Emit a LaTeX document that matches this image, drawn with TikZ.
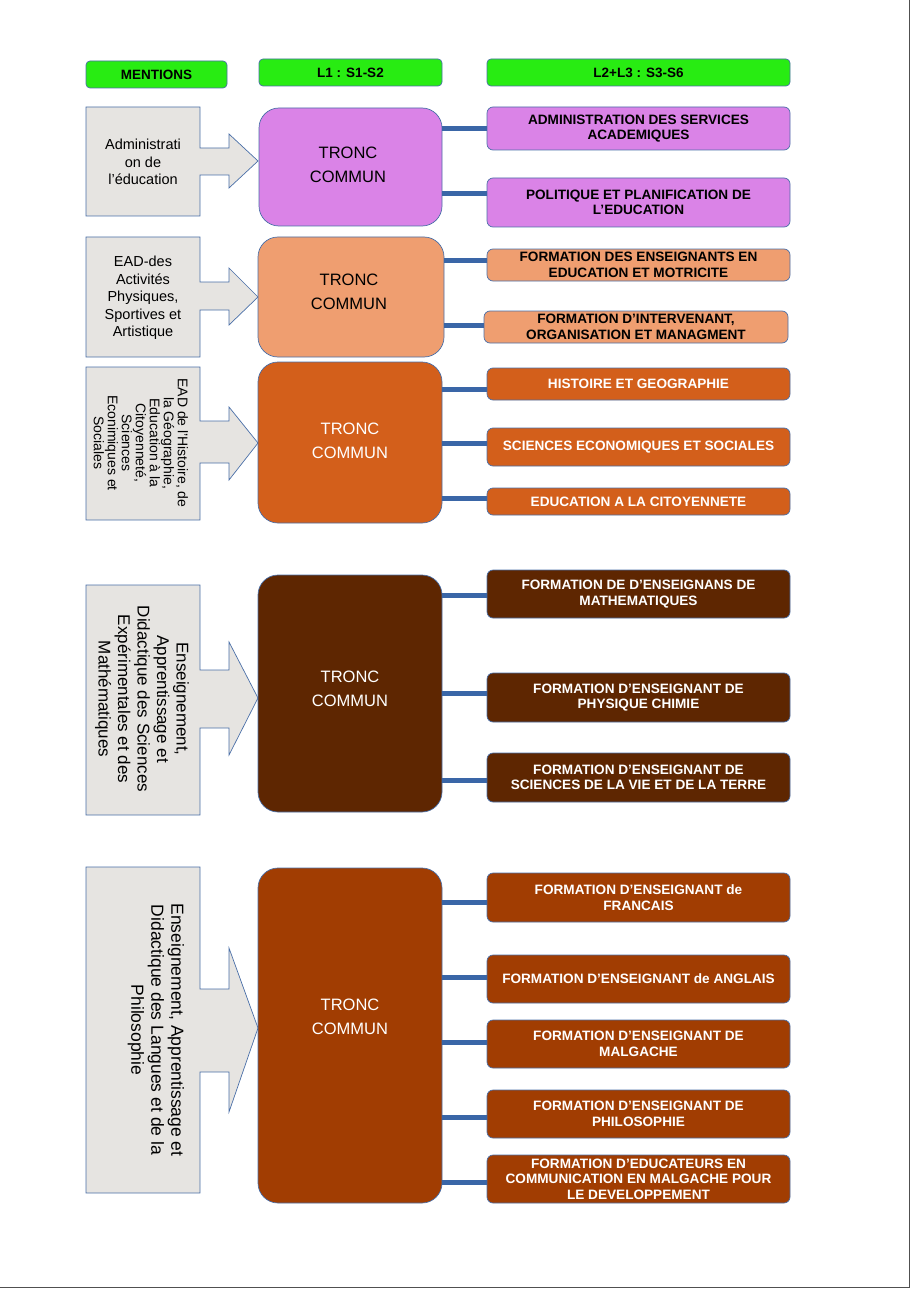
\documentclass[tikz,border=0pt]{standalone}
\usepackage{fontspec}
\setmainfont{Liberation Sans}
\definecolor{hgreen}{RGB}{40,236,18}
\definecolor{bordc}{RGB}{74,111,168}
\definecolor{connc}{RGB}{58,102,167}
\definecolor{mgray}{RGB}{230,228,225}
\definecolor{cviolet}{RGB}{218,131,231}
\definecolor{csalmon}{RGB}{239,158,112}
\definecolor{corange}{RGB}{211,95,27}
\definecolor{cbrown}{RGB}{94,38,1}
\definecolor{crust}{RGB}{161,61,2}
\definecolor{framec}{RGB}{80,80,80}
\newcommand{\mentshape}[7]{\draw[ment] (86,#1) -- (200,#1) -- (200,#3) -- (229,#3) -- (229,#5) -- (258,#7) -- (229,#6) -- (229,#4) -- (200,#4) -- (200,#2) -- (86,#2) -- cycle;}
\begin{document}
\begin{tikzpicture}[x=1pt,y=-1pt,
  bd/.style={draw=bordc, line width=0.7pt},
  hdr/.style={bd, fill=hgreen, rounded corners=4pt, minimum height=27pt, inner sep=0pt, font=\fontsize{13.5}{15}\selectfont\bfseries},
  tronc/.style={bd, rounded corners=20pt, inner sep=0pt},
  rbox/.style={bd, rounded corners=6pt, align=center, minimum width=303pt, inner sep=0pt, font=\fontsize{13.6}{15.5}\selectfont\bfseries},
  conn/.style={draw=connc, line width=5pt},
  ment/.style={bd, fill=mgray},
  ttxt/.style={align=center, font=\fontsize{16.5}{24}\selectfont},
  mtxt/.style={align=center, font=\fontsize{14.5}{17.5}\selectfont}
]
\useasboundingbox (0,0) rectangle (911,1289);
\draw[framec, line width=1.5pt] (909.5,0) -- (909.5,1287.5) -- (0,1287.5);

% headers
\node[hdr, minimum width=141pt] (h1) at (156.5,74.5) {MENTIONS};
\node[hdr, minimum width=183pt] (h2) at (350.5,72.5) {L1 : S1-S2};
\node[hdr, minimum width=303pt] (h3) at (638.5,72.5) {L2+L3 : S3-S6};

% ---------- section 1
\mentshape{107}{216}{148}{175}{134}{188}{161}
\node[mtxt] (m1) at (143,162) {Administrati\\on de\\l’éducation};
\node[tronc, fill=cviolet, minimum width=183pt, minimum height=118pt] (t1) at (350.5,167) {};
\node[ttxt] (t1x) at (348,165) {TRONC\\COMMUN};
\node[rbox, fill=cviolet, minimum height=43pt] (r11) at (638.5,128.5) {ADMINISTRATION DES SERVICES\\ACADEMIQUES};
\node[rbox, fill=cviolet, minimum height=49pt] (r12) at (638.5,202.5) {POLITIQUE ET PLANIFICATION DE\\L’EDUCATION};
\coordinate (c11) at (r11.west);
\coordinate (c12) at ([yshift=8.5pt]r12.west);
\draw[conn] (t1.east |- c11) -- (c11);
\draw[conn] (t1.east |- c12) -- (c12);

% ---------- section 2
\mentshape{237}{357}{282}{310}{268}{325}{297}
\node[mtxt] (m2) at (143,298) {EAD-des\\Activités\\Physiques,\\Sportives et\\Artistique};
\node[tronc, fill=csalmon, minimum width=186pt, minimum height=120pt] (t2) at (351,297) {};
\node[ttxt] (t2x) at (349,292) {TRONC\\COMMUN};
\node[rbox, fill=csalmon, minimum height=32pt] (r21) at (638.5,265) {FORMATION DES ENSEIGNANTS EN\\EDUCATION ET MOTRICITE};
\node[rbox, fill=csalmon, minimum height=32pt, minimum width=304pt] (r22) at (636,327) {FORMATION D’INTERVENANT,\\ORGANISATION ET MANAGMENT};
\coordinate (c21) at ([yshift=5pt]r21.west);
\coordinate (c22) at ([yshift=2pt]r22.west);
\draw[conn] (t2.east |- c21) -- (c21);
\draw[conn] (t2.east |- c22) -- (c22);

% ---------- section 3
\mentshape{367}{520}{421}{463}{407}{480}{443}
\node[rotate=-90, align=center, font=\fontsize{14}{14}\selectfont] (m3) at (141,443) {EAD de l'Histoire, de\\la Géographie,\\Education à la\\Citoyenneté,\\Sciences\\Econimiques et\\Sociales};
\node[tronc, fill=corange, minimum width=184pt, minimum height=161pt] (t3) at (350,442.5) {};
\node[ttxt, text=white] (t3x) at (350,441) {TRONC\\COMMUN};
\node[rbox, fill=corange, text=white, minimum height=32pt] (r31) at (638.5,384) {HISTOIRE ET GEOGRAPHIE};
\node[rbox, fill=corange, text=white, minimum height=38pt] (r32) at (638.5,447) {SCIENCES ECONOMIQUES ET SOCIALES};
\node[rbox, fill=corange, text=white, minimum height=27pt] (r33) at (638.5,501.5) {EDUCATION A LA CITOYENNETE};
\coordinate (c31) at ([yshift=-5pt]r31.west);
\coordinate (c32) at ([yshift=4pt]r32.west);
\coordinate (c33) at ([yshift=3.5pt]r33.west);
\draw[conn] (t3.east |- c31) -- (c31);
\draw[conn] (t3.east |- c32) -- (c32);
\draw[conn] (t3.east |- c33) -- (c33);

% ---------- section 4
\mentshape{585}{815}{670}{728}{642}{755}{698}
\node[rotate=-90, align=center, font=\fontsize{17}{19.5}\selectfont] (m4) at (142,699) {Enseignement,\\Apprentissage et\\Didactique des Sciences\\Expérimentales et des\\Mathématiques};
\node[tronc, fill=cbrown, minimum width=184pt, minimum height=237pt] (t4) at (350,693.5) {};
\node[ttxt, text=white] (t4x) at (350,689) {TRONC\\COMMUN};
\node[rbox, fill=cbrown, text=white, minimum height=48pt] (r41) at (638.5,594) {FORMATION DE D’ENSEIGNANS DE\\MATHEMATIQUES};
\node[rbox, fill=cbrown, text=white, minimum height=49pt] (r42) at (638.5,697.5) {FORMATION D’ENSEIGNANT DE\\PHYSIQUE CHIMIE};
\node[rbox, fill=cbrown, text=white, minimum height=49pt] (r43) at (638.5,777.5) {FORMATION D’ENSEIGNANT DE\\SCIENCES DE LA VIE ET DE LA TERRE};
\coordinate (c41) at ([yshift=-1pt]r41.west);
\coordinate (c42) at ([yshift=4.5pt]r42.west);
\coordinate (c43) at ([yshift=-2.5pt]r43.west);
\draw[conn] (t4.east |- c41) -- (c41);
\draw[conn] (t4.east |- c42) -- (c42);
\draw[conn] (t4.east |- c43) -- (c43);

% ---------- section 5
\mentshape{867}{1193}{989}{1072}{948}{1112}{1028}
\node[rotate=-90, align=center, font=\fontsize{17.5}{20}\selectfont] (m5) at (156,1030) {Enseignement, Apprentissage et\\Didactique des Langues et de la\\Philosophie};
\node[tronc, fill=crust, minimum width=184pt, minimum height=335pt] (t5) at (350,1035.5) {};
\node[ttxt, text=white] (t5x) at (350,1017) {TRONC\\COMMUN};
\node[rbox, fill=crust, text=white, minimum height=49pt] (r51) at (638.5,897.5) {FORMATION D’ENSEIGNANT de\\FRANCAIS};
\node[rbox, fill=crust, text=white, minimum height=48pt] (r52) at (638.5,979) {FORMATION D’ENSEIGNANT de ANGLAIS};
\node[rbox, fill=crust, text=white, minimum height=48pt] (r53) at (638.5,1044) {FORMATION D’ENSEIGNANT DE\\MALGACHE};
\node[rbox, fill=crust, text=white, minimum height=48pt] (r54) at (638.5,1114) {FORMATION D’ENSEIGNANT DE\\PHILOSOPHIE};
\node[rbox, fill=crust, text=white, minimum height=48pt] (r55) at (638.5,1179) {FORMATION D’EDUCATEURS EN\\COMMUNICATION EN MALGACHE POUR\\LE DEVELOPPEMENT};
\coordinate (c51) at ([yshift=-4.5pt]r51.west);
\coordinate (c52) at ([yshift=2pt]r52.west);
\coordinate (c53) at ([yshift=2pt]r53.west);
\coordinate (c54) at ([yshift=-3pt]r54.west);
\coordinate (c55) at ([yshift=-3pt]r55.west);
\draw[conn] (t5.east |- c51) -- (c51);
\draw[conn] (t5.east |- c52) -- (c52);
\draw[conn] (t5.east |- c53) -- (c53);
\draw[conn] (t5.east |- c54) -- (c54);
\draw[conn] (t5.east |- c55) -- (c55);
\end{tikzpicture}
\end{document}
